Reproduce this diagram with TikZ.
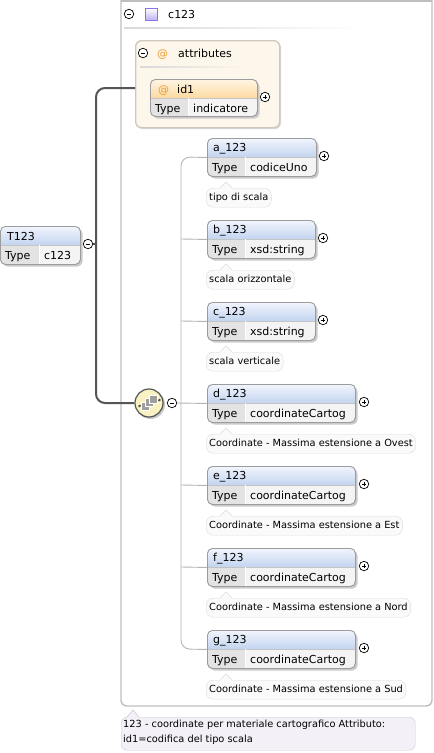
\documentclass[tikz,border=0pt]{standalone}
\usepackage{fontspec}
\setmainfont{DejaVu Sans}
\usetikzlibrary{calc}
\definecolor{headtop}{HTML}{F2F6FD}
\definecolor{headbot}{HTML}{C3D4F0}
\definecolor{atttop}{HTML}{FFF6E6}
\definecolor{attbot}{HTML}{FCD9A0}
\definecolor{typec}{HTML}{E3E3E3}
\definecolor{valc}{HTML}{F4F4F4}
\definecolor{bordc}{HTML}{9C9C9C}
\definecolor{shadc}{HTML}{CACACA}
\definecolor{framec}{HTML}{BFBFBF}
\definecolor{attfill}{HTML}{FDF6EB}
\definecolor{attdraw}{HTML}{CFC7BC}
\definecolor{docfill}{HTML}{FAFAFA}
\definecolor{docdraw}{HTML}{DCDCDC}
\definecolor{notefill}{HTML}{F4F0F8}
\definecolor{notedraw}{HTML}{CFC6DA}
\definecolor{connc}{HTML}{B4B4B4}
\definecolor{trunkc}{HTML}{555555}
\definecolor{orangec}{HTML}{E89B2C}
\definecolor{seqfill}{HTML}{F8F2C2}
\tikzset{
  elemnode/.style={draw=bordc, line width=0.9pt, rounded corners=5pt, inner sep=0pt, rectangle},
  lbl/.style={inner sep=0pt, font=\fontsize{11}{12}\selectfont},
  doclbl/.style={font=\fontsize{9.8}{11}\selectfont},
  docnode/.style={draw=docdraw, fill=docfill, rounded corners=7pt, inner xsep=3pt, inner ysep=0pt, minimum height=19pt, doclbl, text height=7pt, text depth=2pt},
  tconn/.style={draw=connc, line width=0.9pt},
  trunk/.style={draw=trunkc, line width=2pt},
  pm/.style={circle, draw=black, fill=white, line width=0.7pt, minimum size=9.5pt, inner sep=0pt},
}
\newcommand\plusat[2]{\node[pm] (#1) at (#2) {};
  \draw[line width=0.7pt] ($(#1)+(-2.3,0)$) -- ($(#1)+(2.3,0)$) ($(#1)+(0,-2.3)$) -- ($(#1)+(0,2.3)$);}
\newcommand\minusat[2]{\node[pm] (#1) at (#2) {};
  \draw[line width=0.7pt] ($(#1)+(-2.3,0)$) -- ($(#1)+(2.3,0)$);}
% #1 id, #2 x, #3 y, #4 w, #5 divx, #6 height, #7 value, #8 top col, #9 bottom col
\newcommand\elembox[9]{%
  \fill[shadc, rounded corners=5pt] (#2+2.5,#3+2.5) rectangle (#2+#4+2.5,#3+#6+2.5);
  \begin{scope}
    \clip[rounded corners=5pt] (#2,#3) rectangle (#2+#4,#3+#6);
    \shade[top color=#8, bottom color=#9] (#2,#3) rectangle (#2+#4,#3+19);
    \fill[typec] (#2,#3+19) rectangle (#5,#3+#6);
    \fill[valc] (#5,#3+19) rectangle (#2+#4,#3+#6);
    \draw[bordc!60, line width=0.6pt] (#2,#3+19) -- (#2+#4,#3+19);
    \draw[white, line width=0.9pt] (#5,#3+19) -- (#5,#3+#6);
  \end{scope}
  \node[elemnode, minimum width=#4pt, minimum height=#6pt, anchor=north west] (#1) at (#2,#3) {};
  \node[lbl, anchor=base west] at (#2+5,#3+33) {Type};
  \node[lbl, anchor=base west] at (#5+5,#3+33) {#7};
}
\newcommand\pointer[2]{% x, top y
  \fill[docfill] (#1,#2+0.8) -- (#1+6,#2-6) -- (#1+12,#2+0.8) -- cycle;
  \draw[docdraw, line width=0.6pt] (#1,#2) -- (#1+6,#2-6) -- (#1+12,#2);}
\begin{document}
\begin{tikzpicture}[x=1pt,y=-1pt]
\useasboundingbox (0,0) rectangle (434,753);
\fill[white] (0,0) rectangle (434,753);

% outer complex type frame
\draw[framec, line width=1.4pt, rounded corners=6pt] (121,-10) -- (121,706) -- (432,706) -- (432,-10);
\draw[framec, line width=1.4pt] (121,1) -- (432,1);
\minusat{cmin}{129,14}
\shade[top color=white, bottom color=violet!35!blue!30, draw=violet!40!blue!55, line width=0.6pt] (145,8) rectangle (157,20);
\node[lbl, anchor=base west] (ctitle) at (168,18) {c123};
\shade[left color=gray!30, right color=white] (124,27.8) rectangle (360,28.8);

% attributes group
\fill[shadc!70, rounded corners=6pt] (136.5,41.5) rectangle (281,129);
\node[draw=attdraw, fill=attfill, line width=1.3pt, rounded corners=6pt, minimum width=144pt, minimum height=87pt, anchor=north west, inner sep=0pt] (attr) at (135,40) {};
\minusat{amin}{143,53}
\node[lbl, anchor=base west, text=orangec] at (157,57) {@};
\node[lbl, anchor=base west] (atitle) at (178,57) {attributes};
\shade[left color=gray!30, right color=attfill] (140,66.8) rectangle (245,67.8);
\coordinate (attrin) at (135,88);

% id1 attribute
\elembox{id1}{150}{79}{107}{188}{37}{indicatore}{atttop}{attbot}
\node[lbl, anchor=base west, text=orangec] at (158,93) {@};
\node[lbl, anchor=base west] at (177,93) {id1};
\plusat{id1plus}{265,97}

% T123 root element
\elembox{T}{0}{226}{80}{39}{38}{c123}{headtop}{headbot}
\node[lbl, anchor=base west] at (7,240) {T123};
\minusat{Tmin}{88,244}

% thick connectors
\draw[trunk] (Tmin.east) -- (96,244);
\fill[trunkc] (95,244) circle (1.3pt);

% sequence compositor
\fill[shadc] (150.5,404.5) circle (14.5pt);
\node[circle, draw=trunkc, line width=1.2pt, fill=seqfill, minimum size=28pt, inner sep=0pt] (seq) at (149,403) {};
\draw[trunkc, line width=0.9pt] (139,406) -- (160,400);
\fill[trunkc] (139.5,406) circle (1.4pt) (159.5,400) circle (1.4pt);
\foreach \dx/\dy in {-4/3,0/-0.5,4/-4}{
  \filldraw[fill=gray!75, draw=white, line width=0.6pt] (149+\dx-4,403+\dy-4) rectangle (149+\dx+4,403+\dy+4);
}
\minusat{smin}{172,403}
\draw[trunk, rounded corners=9pt] (attrin) -- (96,88) -- (96,403) -- (seq.west);

% child elements
\elembox{a}{207}{138}{109}{245}{38}{codiceUno}{headtop}{headbot}
\node[lbl, anchor=base west] at (213,151.5) {a\_123};
\plusat{aplus}{324,156}
\node[docnode, anchor=north west] (adoc) at (206,188) {tipo di scala};
\pointer{220}{188}

\elembox{b}{207}{220}{108}{245}{38}{xsd:string}{headtop}{headbot}
\node[lbl, anchor=base west] at (213,233.5) {b\_123};
\plusat{bplus}{323,238}
\node[docnode, anchor=north west] (bdoc) at (206,270) {scala orizzontale};
\pointer{220}{270}

\elembox{c}{207}{302}{108}{245}{38}{xsd:string}{headtop}{headbot}
\node[lbl, anchor=base west] at (213,315.5) {c\_123};
\plusat{cplus}{323,320}
\node[docnode, anchor=north west] (cdoc) at (206,352) {scala verticale};
\pointer{220}{352}

\elembox{d}{207}{384}{148}{245}{38}{coordinateCartog}{headtop}{headbot}
\node[lbl, anchor=base west] at (213,397.5) {d\_123};
\plusat{dplus}{364,402}
\node[docnode, anchor=north west] (ddoc) at (206,434) {Coordinate - Massima estensione a Ovest};
\pointer{220}{434}

\elembox{e}{207}{466}{148}{245}{38}{coordinateCartog}{headtop}{headbot}
\node[lbl, anchor=base west] at (213,479.5) {e\_123};
\plusat{eplus}{364,484}
\node[docnode, anchor=north west] (edoc) at (206,516) {Coordinate - Massima estensione a Est};
\pointer{220}{516}

\elembox{f}{207}{548}{148}{245}{38}{coordinateCartog}{headtop}{headbot}
\node[lbl, anchor=base west] at (213,561.5) {f\_123};
\plusat{fplus}{364,566}
\node[docnode, anchor=north west] (fdoc) at (206,598) {Coordinate - Massima estensione a Nord};
\pointer{220}{598}

\elembox{g}{207}{630}{148}{245}{38}{coordinateCartog}{headtop}{headbot}
\node[lbl, anchor=base west] at (213,643.5) {g\_123};
\plusat{gplus}{364,648}
\node[docnode, anchor=north west] (gdoc) at (206,680) {Coordinate - Massima estensione a Sud};
\pointer{220}{680}

% thin sequence connectors
\draw[tconn, rounded corners=9pt] (a.west) -- (181,157) -- (181,649) -- (g.west);
\draw[tconn] (181,239) -- (b.west);
\draw[tconn] (181,321) -- (c.west);
\draw[tconn] (smin.east) -- (d.west);
\draw[tconn] (181,485) -- (e.west);
\draw[tconn] (181,567) -- (f.west);

% bottom documentation note
\node[draw=notedraw, fill=notefill, rounded corners=6pt, minimum width=294pt, minimum height=33pt, anchor=north west, inner sep=0pt] (note) at (121,717) {};
\fill[notefill] (127,717.8) -- (133,710) -- (139,717.8) -- cycle;
\draw[notedraw, line width=0.6pt] (127,717) -- (133,710) -- (139,717);
\node[doclbl, anchor=base west, inner sep=0pt] at (123,727.5) {123 - coordinate per materiale cartografico Attributo:};
\node[doclbl, anchor=base west, inner sep=0pt] at (123,742) {id1=codifica del tipo scala};
\end{tikzpicture}
\end{document}
